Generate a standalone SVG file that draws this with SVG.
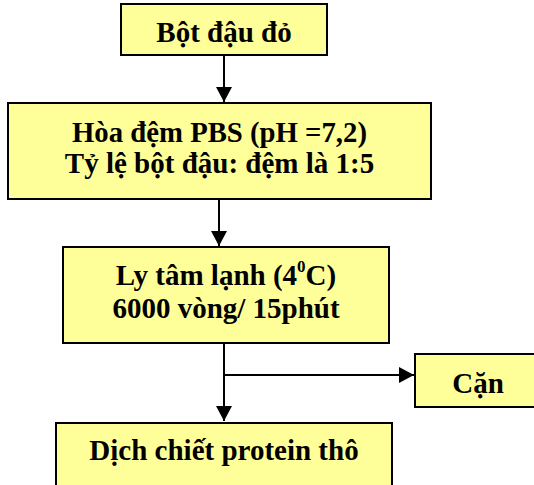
<svg xmlns="http://www.w3.org/2000/svg" width="534" height="485" viewBox="0 0 534 485">
<defs>
<style>
.box{fill:#FFFF99;stroke:#000;stroke-width:2}
.sh{fill:#999}
.t{font-family:"Liberation Serif","Times New Roman",serif;font-weight:bold;font-size:29px;fill:#000;text-anchor:middle}
.c{stroke:#000;stroke-width:2;fill:none}
</style>
<marker id="ah" markerUnits="userSpaceOnUse" markerWidth="16" markerHeight="16" viewBox="0 0 16 16" refX="15" refY="8" orient="auto">
<path d="M0,0 L15,8 L0,16 Z" fill="#000"/>
</marker>
</defs>
<g id="connectors">
<path class="c" d="M224,55 V102" marker-end="url(#ah)"/>
<path class="c" d="M219,199 V246" marker-end="url(#ah)"/>
<path class="c" d="M224,343 V421" marker-end="url(#ah)"/>
<path class="c" d="M224,375 H414" marker-end="url(#ah)"/>
</g>
<g id="n1">
<rect class="sh" x="122" y="5" width="206" height="51"/>
<rect class="box" x="121" y="4" width="206" height="51"/>
<text class="t" x="224" y="42">Bột đậu đỏ</text>
</g>
<g id="n2">
<rect class="sh" x="9" y="104" width="423" height="96"/>
<rect class="box" x="8" y="103" width="423" height="96"/>
<text class="t" x="219.5" y="142" textLength="295" lengthAdjust="spacingAndGlyphs">Hòa đệm PBS (pH =7,2)</text>
<text class="t" x="219.5" y="173">Tỷ lệ bột đậu: đệm là 1:5</text>
</g>
<g id="n3">
<rect class="sh" x="64" y="248" width="326" height="96"/>
<rect class="box" x="63" y="247" width="326" height="96"/>
<text class="t" x="226" y="285">Ly tâm lạnh (4<tspan font-size="17" dy="-13">0</tspan><tspan dy="13">C)</tspan></text>
<text class="t" x="226" y="318">6000 vòng/ 15phút</text>
</g>
<g id="n4">
<rect class="sh" x="416" y="355" width="126" height="53"/>
<rect class="box" x="415" y="354" width="126" height="53"/>
<text class="t" x="478" y="393">Cặn</text>
</g>
<g id="n5">
<rect class="sh" x="57" y="424" width="336" height="70"/>
<rect class="box" x="56" y="423" width="336" height="70"/>
<text class="t" x="224" y="460">Dịch chiết protein thô</text>
</g>
</svg>
